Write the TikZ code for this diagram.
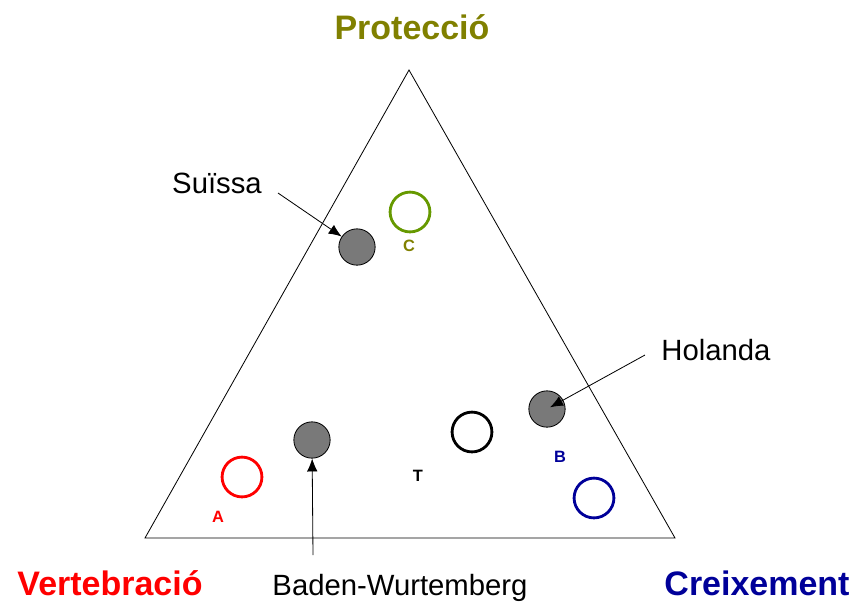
\documentclass[tikz,border=0pt]{standalone}
\usepackage{fontspec}
\setmainfont{Liberation Sans}
\usetikzlibrary{arrows.meta}
\definecolor{olivetxt}{RGB}{128,128,0}
\definecolor{greenring}{RGB}{102,153,0}
\definecolor{navytxt}{RGB}{0,0,153}
\tikzset{
  axis/.style={font=\fontsize{29}{31}\selectfont\bfseries, inner sep=0pt},
  country/.style={font=\fontsize{25}{27}\selectfont, inner sep=0pt},
  pt/.style={font=\fontsize{14}{16}\selectfont\bfseries, inner sep=0pt},
  ring/.style={circle, draw, line width=2.4pt, minimum size=34pt, inner sep=0pt},
  real/.style={circle, draw=black, fill=gray!95!black, line width=0.7pt, minimum size=31pt, inner sep=0pt},
  pointer/.style={-{Latex[length=11pt,width=9pt]}, line width=0.7pt}
}
\begin{document}
\begin{tikzpicture}[x=0.03cm,y=-0.03cm]
\useasboundingbox (0,0) rectangle (856,602);
% triangle
\coordinate (T_top) at (409,70);
\coordinate (T_left) at (145,538);
\coordinate (T_right) at (675,538);
\draw[line width=0.7pt] (T_top) -- (T_left) -- (T_right) -- cycle;
\node[axis, text=olivetxt] (L_top) at (412,27) {Protecció};
\node[axis, text=red] (L_left) at (110,583) {Vertebració};
\node[axis, text=navytxt] (L_right) at (757,583) {Creixement};
% scenarios
\node[ring, draw=greenring] (R_C) at (410,212) {};
\node[pt, text=olivetxt] (P_C) at (409,246) {C};
\node[ring, draw=red] (R_A) at (242,477) {};
\node[pt, text=red] (P_A) at (218,517) {A};
\node[ring, draw=black] (R_T) at (472,432) {};
\node[pt] (P_T) at (418,476) {T};
\node[ring, draw=navytxt] (R_B) at (594,498) {};
\node[pt, text=navytxt] (P_B) at (560,457) {B};
% countries
\node[real] (G_sui) at (357,247) {};
\node[real] (G_hol) at (547,409) {};
\node[real] (G_bw) at (312,440) {};
\node[country] (N_sui) at (217,183) {Suïssa};
\node[country] (N_hol) at (716,350) {Holanda};
\node[country] (N_bw) at (400,588) {Baden-Wurtemberg};
\coordinate (S_sui) at (278,193);
\coordinate (S_hol) at (645,355);
\coordinate (S_bw) at (313,555);
\draw[pointer] (S_sui) -- (G_sui);
\draw[pointer, shorten >=3pt] (S_hol) -- (G_hol.center);
\draw[pointer] (S_bw) -- (G_bw);
\end{tikzpicture}
\end{document}
